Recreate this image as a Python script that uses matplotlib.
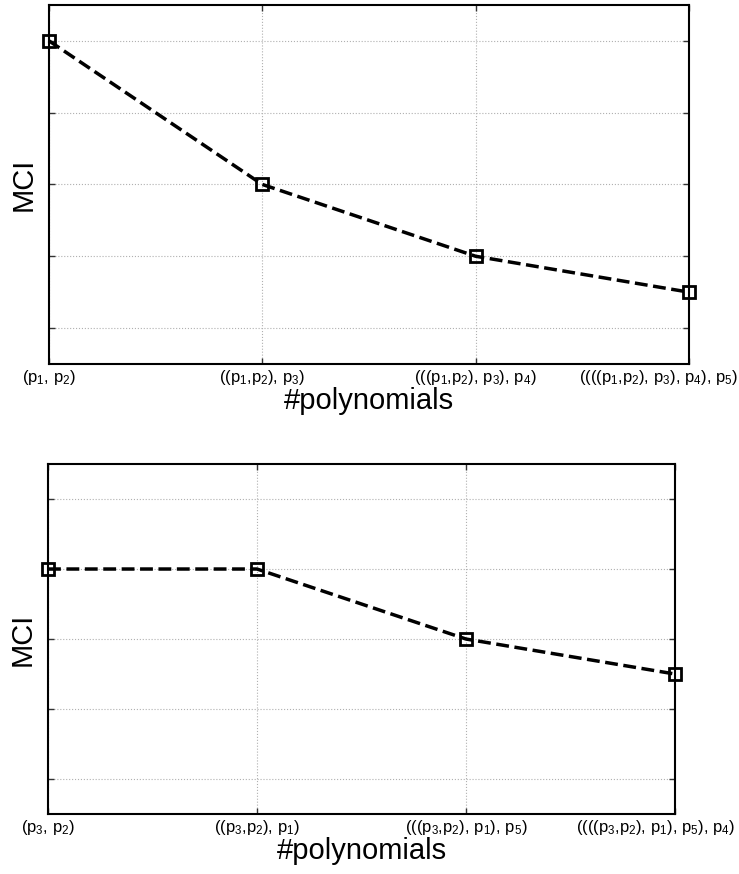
import matplotlib
matplotlib.use('Agg')
import matplotlib.pyplot as plt
import matplotlib.transforms as mtransforms

plt.rcParams['font.family'] = ['Liberation Sans', 'DejaVu Sans']
plt.rcParams['mathtext.fontset'] = 'custom'
plt.rcParams['mathtext.rm'] = 'Liberation Sans'
plt.rcParams['mathtext.it'] = 'Liberation Sans:italic'
plt.rcParams['mathtext.default'] = 'regular'

# ==========================================
# DATA
# ==========================================
steps = [0, 1, 2, 3]

labels_top = ['(p$_1$, p$_2$)',
              '((p$_1$,p$_2$), p$_3$)',
              '(((p$_1$,p$_2$), p$_3$), p$_4$)',
              '((((p$_1$,p$_2$), p$_3$), p$_4$), p$_5$)']
mci_top = [5.0, 3.0, 2.0, 1.5]

labels_bottom = ['(p$_3$, p$_2$)',
                 '((p$_3$,p$_2$), p$_1$)',
                 '(((p$_3$,p$_2$), p$_1$), p$_5$)',
                 '((((p$_3$,p$_2$), p$_1$), p$_5$), p$_4$)']
mci_bottom = [4.0, 4.0, 3.0, 2.5]

y_ticks = [1, 2, 3, 4, 5]

# ==========================================
# FIGURE
# ==========================================
fig = plt.figure(figsize=(7.39, 8.74), dpi=100)
ax_top = fig.add_axes([0.0659, 0.5835, 0.8664, 0.4111])
ax_bot = fig.add_axes([0.0650, 0.0686, 0.8484, 0.4005])


def draw_panel(ax, xs, ys, labels, last_shift):
    ax.plot(xs, ys, linestyle='--', color='black', linewidth=2.5,
            marker='s', markersize=8.5, markerfacecolor='none',
            markeredgecolor='black', markeredgewidth=2, clip_on=False, zorder=5)
    ax.set_xlim(0, 3)
    ax.set_ylim(0.5, 5.5)
    ax.set_xticks(xs)
    ax.set_xticklabels(labels, fontsize=12)
    ax.set_yticks(y_ticks)
    ax.set_yticklabels([])
    ax.tick_params(direction='in', length=4, width=1, top=True, right=True,
                   pad=3, color='#333333')
    ax.grid(True, linestyle=':', color='#b0b0b0', linewidth=0.8)
    for sp in ax.spines.values():
        sp.set_linewidth(1.5)
    ax.set_xlabel('#polynomials', fontsize=21, labelpad=0)
    ax.set_ylabel('MCI', fontsize=21, labelpad=5)
    # keep the last label inside the figure
    lbl = ax.get_xticklabels()[-1]
    lbl.set_horizontalalignment('right')
    lbl.set_transform(lbl.get_transform() +
                      mtransforms.ScaledTranslation(last_shift, 0, fig.dpi_scale_trans))


draw_panel(ax_top, steps, mci_top, labels_top, 0.49)
draw_panel(ax_bot, steps, mci_bottom, labels_bottom, 0.60)

fig.savefig('out.png', dpi=100)
